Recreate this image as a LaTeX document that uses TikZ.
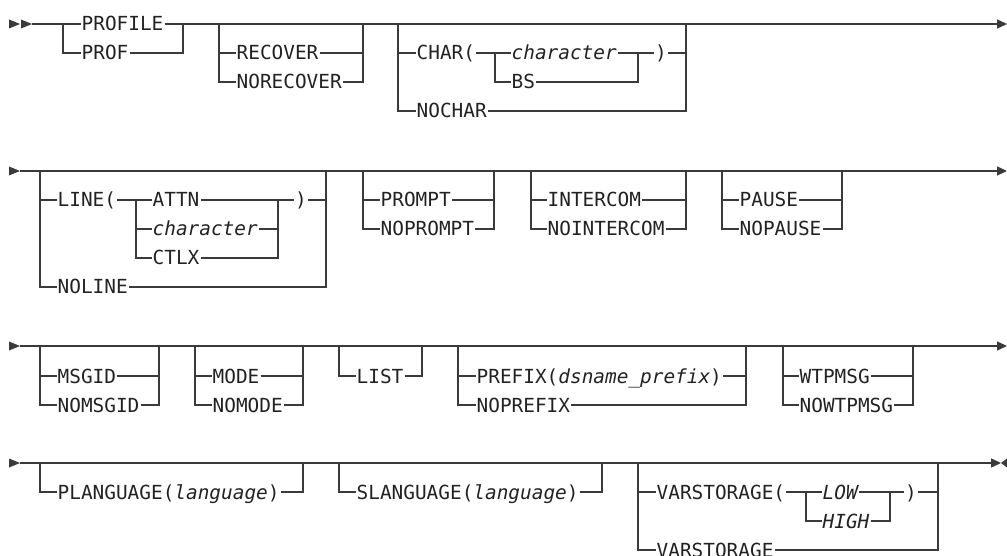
\documentclass[tikz,border=0pt]{standalone}
\usepackage{fontspec}
\setmonofont{DejaVu Sans Mono}
\usetikzlibrary{arrows.meta}

\definecolor{railgrey}{HTML}{3A3A3A}
\definecolor{inkgrey}{HTML}{222222}
\newcommand{\railfont}{\ttfamily\fontsize{19.4}{20}\selectfont}
\newcommand{\railstart}[1]{\fill (#1) ++(0,-4.5) -- ++(11,4.5) -- ++(-11,4.5) -- cycle;}

\begin{document}
\begin{tikzpicture}[x=1pt, y=-1pt, line width=1.3pt, color=railgrey,
    >={Triangle[length=10pt,width=9pt]},
    kw/.style={font=\railfont, text=inkgrey, inner xsep=0.5pt, inner ysep=0pt,
               text height=14pt, text depth=0pt, anchor=west},
    var/.style={kw, font=\railfont\itshape}]

    \useasboundingbox (0,0) rectangle (1007,556);

    % Branch points of every group
    \foreach \g/\y/\l/\r in {g1/24/63/183, g2/24/219/363, g3/24/398/686, c/53/495/638,
                             g4/171/40/326, l/200/136/278, g5/171/363/494, g6/171/531/686, g7/171/722/842,
                             g8/346/40/159, g9/346/195/303, g10/346/339/422, g11/346/458/746, g12/346/783/913,
                             g13/463/40/303, g14/463/339/602, g15/463/638/938, v/492/806/890}
    {
        \coordinate (\g-l) at (\l,\y);
        \coordinate (\g-r) at (\r,\y);
    }

    % Row 1
    \node[kw] (profile) at (80.5,24) {PROFILE};
    \node[kw] (prof) at (80.5,53) {PROF};
    \node[kw] (recover) at (235.5,53) {RECOVER};
    \node[kw] (norecover) at (235.5,82) {NORECOVER};
    \node[kw] (charopen) at (415.5,53) {CHAR(};
    \node[var] (character) at (510.5,53) {character};
    \node[kw] (bs) at (510.5,82) {BS};
    \node[kw] (charclose) at (654,53) {)};
    \node[kw] (nochar) at (415.5,111) {NOCHAR};

    % Row 2
    \node[kw] (lineopen) at (56.5,200) {LINE(};
    \node[kw] (attn) at (151.5,200) {ATTN};
    \node[var] (lchar) at (151.5,229) {character};
    \node[kw] (ctlx) at (151.5,258) {CTLX};
    \node[kw] (lineclose) at (294,200) {)};
    \node[kw] (noline) at (56.5,287) {NOLINE};
    \node[kw] (prompt) at (379.5,200) {PROMPT};
    \node[kw] (noprompt) at (379.5,229) {NOPROMPT};
    \node[kw] (intercom) at (546.5,200) {INTERCOM};
    \node[kw] (nointercom) at (546.5,229) {NOINTERCOM};
    \node[kw] (pause) at (738.5,200) {PAUSE};
    \node[kw] (nopause) at (738.5,229) {NOPAUSE};

    % Row 3
    \node[kw] (msgid) at (56.5,376) {MSGID};
    \node[kw] (nomsgid) at (56.5,405) {NOMSGID};
    \node[kw] (mode) at (211.5,376) {MODE};
    \node[kw] (nomode) at (211.5,405) {NOMODE};
    \node[kw] (list) at (355.5,376) {LIST};
    \node[kw] (prefix) at (475.5,376) {PREFIX(\textit{dsname\_prefix})};
    \node[kw] (noprefix) at (475.5,405) {NOPREFIX};
    \node[kw] (wtpmsg) at (798.5,376) {WTPMSG};
    \node[kw] (nowtpmsg) at (798.5,405) {NOWTPMSG};

    % Row 4
    \node[kw] (plang) at (56.5,492) {PLANGUAGE(\textit{language})};
    \node[kw] (slang) at (355.5,492) {SLANGUAGE(\textit{language})};
    \node[kw] (varopen) at (655.5,492) {VARSTORAGE(};
    \node[var] (low) at (821.5,492) {LOW};
    \node[var] (high) at (821.5,521) {HIGH};
    \node[kw] (varclose) at (904,492) {)};
    \node[kw] (varnone) at (655.5,550) {VARSTORAGE};

    % Main lines
    \coordinate (r1s) at (9,24);   \coordinate (r1a) at (32,24);   \coordinate (r1e) at (1007,24);
    \coordinate (r2s) at (9,171);  \coordinate (r2a) at (20,171);  \coordinate (r2e) at (1007,171);
    \coordinate (r3s) at (9,346);  \coordinate (r3a) at (20,346);  \coordinate (r3e) at (1007,346);
    \coordinate (r4s) at (9,463);  \coordinate (r4a) at (20,463);  \coordinate (r4e) at (1001,463);

    \railstart{r1s}
    \railstart{21,24}
    \railstart{r2s}
    \railstart{r3s}
    \railstart{r4s}

    \draw (r1a) -- (profile.west);
    \draw[->] (profile.east) -- (r1e);
    \draw[->] (r2a) -- (r2e);
    \draw[->] (r3a) -- (r3e);
    \draw[->] (r4a) -- (r4e);
    \fill (1007,458.5) -- (r4e) -- (1007,467.5) -- cycle;

    % Branches
    \foreach \a/\b/\g in {prof/prof/g1, recover/recover/g2, norecover/norecover/g2,
                          charopen/charclose/g3, nochar/nochar/g3, bs/bs/c,
                          lineopen/lineclose/g4, noline/noline/g4, lchar/lchar/l, ctlx/ctlx/l,
                          prompt/prompt/g5, noprompt/noprompt/g5, intercom/intercom/g6,
                          nointercom/nointercom/g6, pause/pause/g7, nopause/nopause/g7,
                          msgid/msgid/g8, nomsgid/nomsgid/g8, mode/mode/g9, nomode/nomode/g9,
                          list/list/g10, prefix/prefix/g11, noprefix/noprefix/g11,
                          wtpmsg/wtpmsg/g12, nowtpmsg/nowtpmsg/g12, plang/plang/g13,
                          slang/slang/g14, varopen/varclose/g15, varnone/varnone/g15, high/high/v}
    {
        \draw (\g-l) |- (\a.west) (\b.east) -| (\g-r);
    }

    % Inner choices
    \draw (charopen.east) -- (character.west);
    \draw (character.east) -- (charclose.west);
    \draw (lineopen.east) -- (attn.west);
    \draw (attn.east) -- (lineclose.west);
    \draw (varopen.east) -- (low.west);
    \draw (low.east) -- (varclose.west);

\end{tikzpicture}
\end{document}
